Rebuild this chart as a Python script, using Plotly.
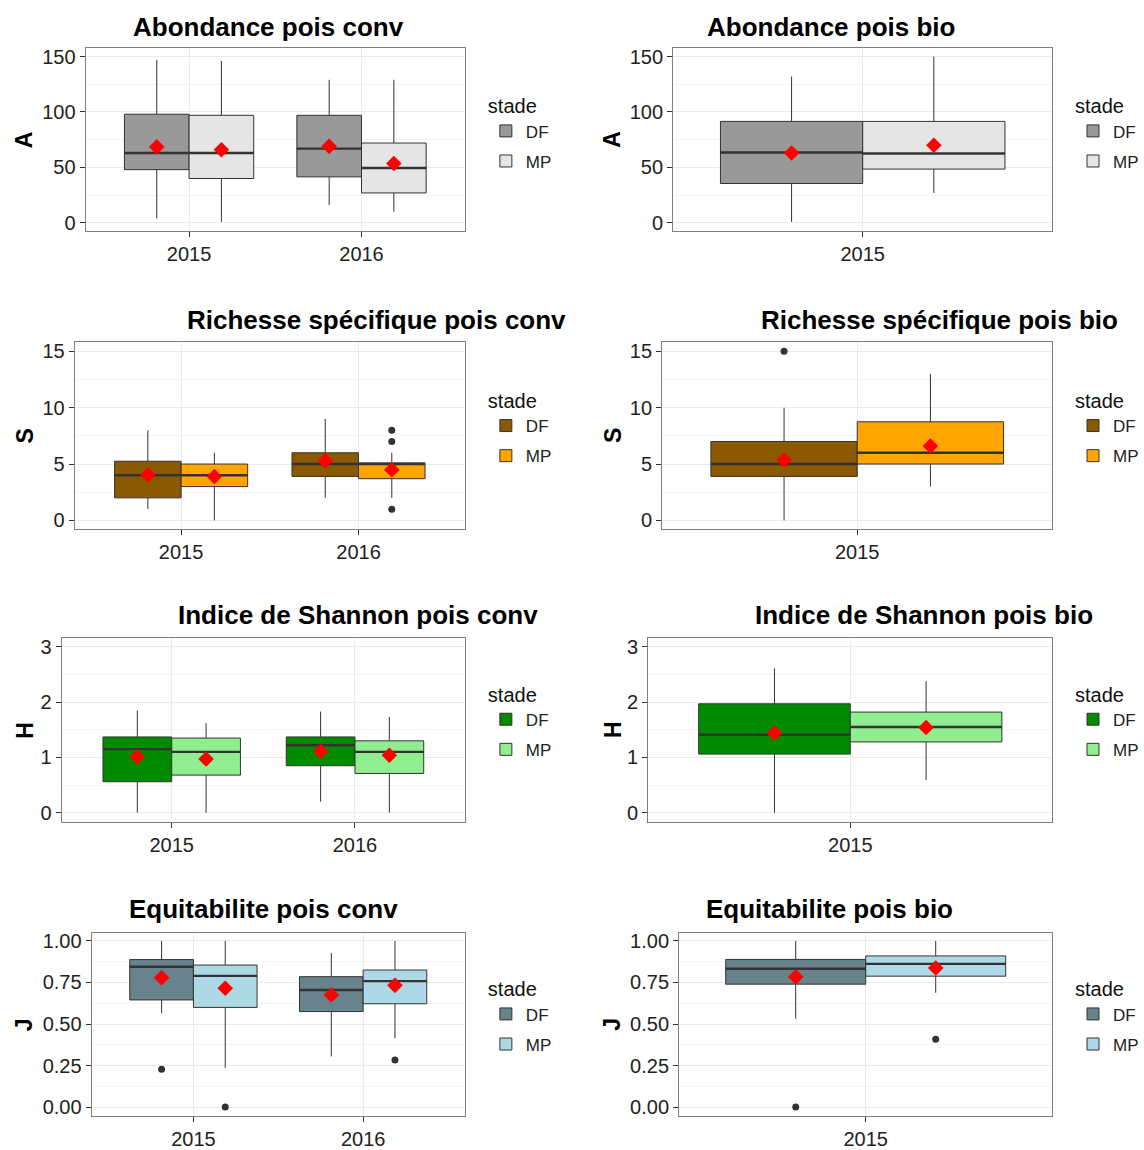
import plotly.graph_objects as go

W, H = 1144, 1150

YEARS_CONV = ["2015", "2016"]
YEARS_BIO = ["2015"]
STADES = ["DF", "MP"]

# ---- Box statistics: rows = stade (DF, MP), columns = year ----
# Abondance pois conv
AB_CONV_LO = [[4, 16], [1, 10]]
AB_CONV_Q1 = [[48, 41.5], [40, 27]]
AB_CONV_MED = [[63, 67], [63, 49.5]]
AB_CONV_Q3 = [[98, 97], [97, 72]]
AB_CONV_HI = [[147, 129], [146, 129]]
AB_CONV_MEAN = [[68.5, 69], [66, 53.5]]
AB_CONV_OUT = [[[], []], [[], []]]
# Abondance pois bio
AB_BIO_LO = [[1], [27]]
AB_BIO_Q1 = [[35.5], [48.5]]
AB_BIO_MED = [[63.5], [62.5]]
AB_BIO_Q3 = [[91.5], [91.5]]
AB_BIO_HI = [[132], [150]]
AB_BIO_MEAN = [[63], [70]]
AB_BIO_OUT = [[[]], [[]]]
# Richesse specifique pois conv
RS_CONV_LO = [[1, 2], [0, 2]]
RS_CONV_Q1 = [[2, 3.9], [3, 3.7]]
RS_CONV_MED = [[4, 5], [4, 5]]
RS_CONV_Q3 = [[5.25, 6], [5, 5.1]]
RS_CONV_HI = [[8, 9], [6, 6]]
RS_CONV_MEAN = [[4.05, 5.3], [3.9, 4.5]]
RS_CONV_OUT = [[[], []], [[], [8, 7, 1]]]
# Richesse specifique pois bio
RS_BIO_LO = [[0], [3]]
RS_BIO_Q1 = [[3.9], [5]]
RS_BIO_MED = [[5], [6]]
RS_BIO_Q3 = [[7], [8.75]]
RS_BIO_HI = [[10], [13]]
RS_BIO_MEAN = [[5.35], [6.6]]
RS_BIO_OUT = [[[15]], [[]]]
# Indice de Shannon pois conv
SH_CONV_LO = [[0, 0.2], [0, 0]]
SH_CONV_Q1 = [[0.56, 0.85], [0.68, 0.71]]
SH_CONV_MED = [[1.15, 1.22], [1.1, 1.1]]
SH_CONV_Q3 = [[1.37, 1.37], [1.35, 1.3]]
SH_CONV_HI = [[1.85, 1.83], [1.62, 1.73]]
SH_CONV_MEAN = [[1.01, 1.11], [0.97, 1.04]]
SH_CONV_OUT = [[[], []], [[], []]]
# Indice de Shannon pois bio
SH_BIO_LO = [[0], [0.59]]
SH_BIO_Q1 = [[1.06], [1.28]]
SH_BIO_MED = [[1.41], [1.55]]
SH_BIO_Q3 = [[1.97], [1.82]]
SH_BIO_HI = [[2.61], [2.38]]
SH_BIO_MEAN = [[1.44], [1.54]]
SH_BIO_OUT = [[[]], [[]]]
# Equitabilite pois conv
EQ_CONV_LO = [[0.565, 0.305], [0.235, 0.415]]
EQ_CONV_Q1 = [[0.645, 0.575], [0.6, 0.622]]
EQ_CONV_MED = [[0.845, 0.705], [0.79, 0.758]]
EQ_CONV_Q3 = [[0.888, 0.785], [0.855, 0.825]]
EQ_CONV_HI = [[1.0, 0.928], [1.0, 1.0]]
EQ_CONV_MEAN = [[0.779, 0.675], [0.715, 0.733]]
EQ_CONV_OUT = [[[0.228], []], [[0.0], [0.283]]]
# Equitabilite pois bio
EQ_BIO_LO = [[0.532], [0.688]]
EQ_BIO_Q1 = [[0.74], [0.788]]
EQ_BIO_MED = [[0.833], [0.862]]
EQ_BIO_Q3 = [[0.889], [0.91]]
EQ_BIO_HI = [[1.0], [1.0]]
EQ_BIO_MEAN = [[0.784], [0.837]]
EQ_BIO_OUT = [[[0.0]], [[0.408]]]

TITLES = ["Abondance pois conv", "Abondance pois bio",
          "Richesse spécifique pois conv", "Richesse spécifique pois bio",
          "Indice de Shannon pois conv", "Indice de Shannon pois bio",
          "Equitabilite pois conv", "Equitabilite pois bio"]
YLABELS = ["A", "A", "S", "S", "H", "H", "J", "J"]

COL_AB = ["#999999", "#e5e5e5"]
COL_RS = ["#8b5a00", "#ffa500"]
COL_SH = ["#008b00", "#90ee90"]
COL_EQ = ["#68838b", "#add8e6"]

STATS = [
    (AB_CONV_LO, AB_CONV_Q1, AB_CONV_MED, AB_CONV_Q3, AB_CONV_HI, AB_CONV_MEAN, AB_CONV_OUT, YEARS_CONV, COL_AB),
    (AB_BIO_LO, AB_BIO_Q1, AB_BIO_MED, AB_BIO_Q3, AB_BIO_HI, AB_BIO_MEAN, AB_BIO_OUT, YEARS_BIO, COL_AB),
    (RS_CONV_LO, RS_CONV_Q1, RS_CONV_MED, RS_CONV_Q3, RS_CONV_HI, RS_CONV_MEAN, RS_CONV_OUT, YEARS_CONV, COL_RS),
    (RS_BIO_LO, RS_BIO_Q1, RS_BIO_MED, RS_BIO_Q3, RS_BIO_HI, RS_BIO_MEAN, RS_BIO_OUT, YEARS_BIO, COL_RS),
    (SH_CONV_LO, SH_CONV_Q1, SH_CONV_MED, SH_CONV_Q3, SH_CONV_HI, SH_CONV_MEAN, SH_CONV_OUT, YEARS_CONV, COL_SH),
    (SH_BIO_LO, SH_BIO_Q1, SH_BIO_MED, SH_BIO_Q3, SH_BIO_HI, SH_BIO_MEAN, SH_BIO_OUT, YEARS_BIO, COL_SH),
    (EQ_CONV_LO, EQ_CONV_Q1, EQ_CONV_MED, EQ_CONV_Q3, EQ_CONV_HI, EQ_CONV_MEAN, EQ_CONV_OUT, YEARS_CONV, COL_EQ),
    (EQ_BIO_LO, EQ_BIO_Q1, EQ_BIO_MED, EQ_BIO_Q3, EQ_BIO_HI, EQ_BIO_MEAN, EQ_BIO_OUT, YEARS_BIO, COL_EQ),
]

# ---- layout geometry (pixels) ----
ROWS_Y = [(45, 230), (342, 530), (640, 825), (937, 1122)]
PLOT_X = [(86, 467), (676, 1057), (75, 467), (665, 1057),
          (62, 467), (651, 1057), (92, 467), (682, 1057)]
TITLE_POS = [(270, 24), (835, 24), (378, 320), (944, 320),
             (360, 617), (928, 617), (265, 913), (833, 913)]
LEG_TOP = [85, 382, 678, 975]
Y_RANGES = [[-7.5, 158], [-0.75, 15.8], [-0.16, 3.16], [-0.055, 1.05]]
Y_DTICK = [50, 5, 1, 0.25]
Y_FMT = ["", "", "", ".2f"]

FONT = "Liberation Sans, Arial, sans-serif"


def px(x):
    return x / W


def py(y):
    return 1 - y / H


fig = go.Figure()
layout = {}
annotations = []

for i, (lo, q1, med, q3, hi, mean, outl, years, cols) in enumerate(STATS):
    n = i + 1
    row = i // 2
    xa = "x" if n == 1 else f"x{n}"
    ya = "y" if n == 1 else f"y{n}"
    leg = "legend" if n == 1 else f"legend{n}"
    ny = len(years)
    w = 0.375 if ny == 2 else 0.45
    offs = [-w / 2, w / 2]
    for s, stade in enumerate(STADES):
        xs = [k + 1 + offs[s] for k in range(ny)]
        fig.add_trace(go.Box(
            x=xs, q1=q1[s], median=med[s], q3=q3[s],
            lowerfence=lo[s], upperfence=hi[s], width=w,
            fillcolor=cols[s], line=dict(color="#333333", width=1),
            whiskerwidth=0, name=stade, legend=leg, showlegend=True,
            legendgroup=f"g{n}{stade}",
            boxpoints=False, xaxis=xa, yaxis=ya, hoverinfo="skip"))
        # thicker median line
        mx, my = [], []
        for k in range(ny):
            mx += [xs[k] - w / 2, xs[k] + w / 2, None]
            my += [med[s][k], med[s][k], None]
        fig.add_trace(go.Scatter(x=mx, y=my, mode="lines",
                                 line=dict(color="#333333", width=2.4),
                                 showlegend=False, xaxis=xa, yaxis=ya, hoverinfo="skip"))
        # outliers
        ox, oy = [], []
        for k in range(ny):
            for v in outl[s][k]:
                ox.append(xs[k])
                oy.append(v)
        if ox:
            fig.add_trace(go.Scatter(x=ox, y=oy, mode="markers",
                                     marker=dict(color="#333333", size=7),
                                     showlegend=False, xaxis=xa, yaxis=ya, hoverinfo="skip"))
        # mean diamonds
        fig.add_trace(go.Scatter(x=xs, y=mean[s], mode="markers",
                                 marker=dict(color="red", symbol="diamond", size=12),
                                 showlegend=False, xaxis=xa, yaxis=ya, hoverinfo="skip"))

    x0, x1 = PLOT_X[i]
    y0, y1 = ROWS_Y[row]
    axis_common = dict(showline=True, mirror=True, linecolor="#7f7f7f", linewidth=1,
                       ticks="outside", ticklen=5, tickcolor="#333333",
                       tickfont=dict(size=20, color="#222222", family=FONT),
                       zeroline=False, showgrid=True, gridcolor="#ebebeb", gridwidth=1)
    layout["xaxis" if n == 1 else f"xaxis{n}"] = dict(
        axis_common, domain=[px(x0), px(x1)], anchor=ya,
        range=[0.4, ny + 0.6], tickvals=list(range(1, ny + 1)), ticktext=years)
    layout["yaxis" if n == 1 else f"yaxis{n}"] = dict(
        axis_common, domain=[py(y1), py(y0)], anchor=xa,
        range=Y_RANGES[row], dtick=Y_DTICK[row], tick0=0, tickformat=Y_FMT[row],
        minor=dict(dtick=Y_DTICK[row] / 2, showgrid=True, gridcolor="#f5f5f5", ticks=""))

    # legend
    lx = 488 if i % 2 == 0 else 1078
    layout[leg] = dict(
        title=dict(text="stade", font=dict(size=20, color="#111111", family=FONT)),
        x=px(lx), y=py(LEG_TOP[row]), xanchor="left", yanchor="top",
        font=dict(size=17, color="#222222", family=FONT),
        bgcolor="rgba(0,0,0,0)", tracegroupgap=5)

    tx, ty = TITLE_POS[i]
    annotations.append(dict(text=TITLES[i], x=px(tx), y=py(ty), xref="paper", yref="paper",
                            showarrow=False, xanchor="center", yanchor="middle",
                            font=dict(size=26, color="#000000", family=FONT, weight="bold")))
    ax_x = 25 if i % 2 == 0 else 615
    annotations.append(dict(text=YLABELS[i], x=px(ax_x), y=py((y0 + y1) / 2), xref="paper",
                            yref="paper", showarrow=False, textangle=-90,
                            xanchor="center", yanchor="middle",
                            font=dict(size=23, color="#000000", family=FONT, weight="bold")))

fig.update_layout(**layout)
fig.update_layout(width=W, height=H, margin=dict(l=0, r=0, t=0, b=0),
                  paper_bgcolor="white", plot_bgcolor="white",
                  annotations=annotations, font=dict(family=FONT))

fig.write_html("out.html")
